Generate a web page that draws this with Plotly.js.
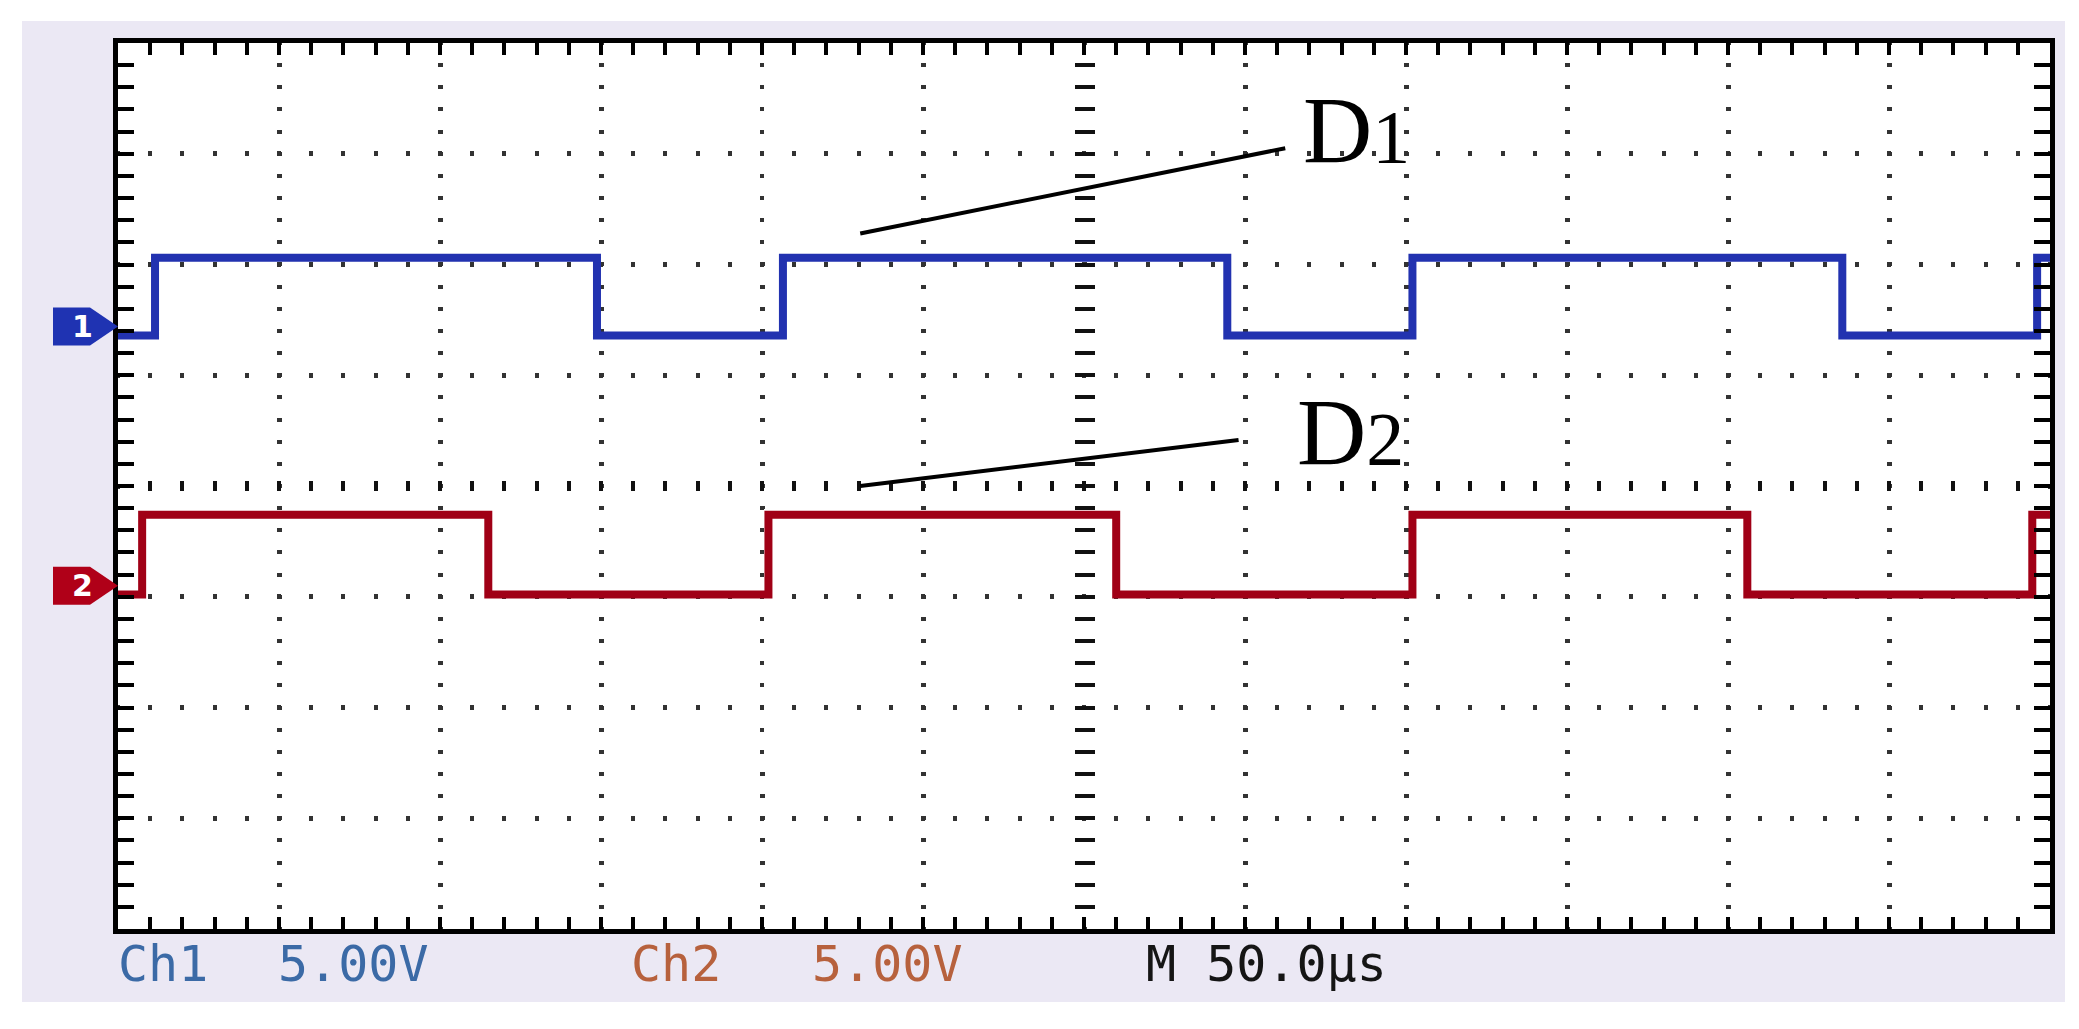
<!DOCTYPE html>
<html>
<head>
<meta charset="utf-8">
<script src="https://cdn.plot.ly/plotly-3.0.1.min.js"></script>
<style>
  html, body { margin: 0; padding: 0; background: #ffffff; }
  #scope { position: absolute; left: 22px; top: 21px; width: 2043px; height: 981px; }
</style>
</head>
<body>
<div id="scope"></div>
<script>
// screen is 12 x 8 divisions, everything below is in divisions
const ch1Time = [0, 0.23, 2.975, 4.13, 6.89, 8.04, 10.71, 11.92, 12];
const ch1Level = [1.36, 2.06, 1.36, 2.06, 1.36, 2.06, 1.36, 2.06, 2.06];
const ch2Time = [0, 0.15, 2.30, 4.04, 6.20, 8.04, 10.12, 11.89, 12];
const ch2Level = [-0.98, -0.26, -0.98, -0.26, -0.98, -0.26, -0.98, -0.26, -0.26];

// ground markers on the left edge
const markerLabel = ['1', '2'];
const markerLevel = [1.44, -0.90];
const markerColor = ['#1f33b2', '#b00018'];

// D1 / D2 callouts
const calloutText = ['D<span style="font-size:76px">1</span>', 'D<span style="font-size:76px">2</span>'];
const calloutX = [7.35, 7.31];
const calloutY = [3.21, 0.48];
const leaderX0 = [4.61, 4.61];
const leaderY0 = [2.28, 0.0];
const leaderX1 = [7.25, 6.96];
const leaderY1 = [3.05, 0.415];

// readout under the screen
const footerText = ['Ch1', '5.00V', 'Ch2', '5.00V', 'M 50.0\u03bcs'];
const footerColor = ['#3b6aa6', '#3b6aa6', '#b7613d', '#b7613d', '#151515'];
const footerLeft = [116, 276, 629, 810, 1144];

const xRange = [0, 12];
const yRange = [-4, 4];
const plotW = 1932, plotH = 886;

const frameAxis = {
    showline: true, linecolor: '#000', linewidth: 5, mirror: 'allticks',
    ticks: 'inside', tickcolor: '#000', tickwidth: 4, dtick: 1, tick0: 0,
    showticklabels: false, zeroline: false, fixedrange: true,
    showgrid: true, gridcolor: '#333', gridwidth: 5,
};

const traces = [
    {
        x: ch1Time, y: ch1Level, type: 'scatter', mode: 'lines',
        line: { color: '#2232b0', width: 8, shape: 'hv' }, hoverinfo: 'skip',
    },
    {
        x: ch2Time, y: ch2Level, type: 'scatter', mode: 'lines',
        line: { color: '#a00016', width: 8, shape: 'hv' }, hoverinfo: 'skip',
    },
    // empty trace so the centre graticule axes get drawn
    { x: [], y: [], xaxis: 'x2', yaxis: 'y2', type: 'scatter', mode: 'lines', hoverinfo: 'skip' },
];

const shapes = [];
const annotations = [];

markerLevel.forEach((lvl, i) => {
    shapes.push({
        type: 'path', xref: 'paper', yref: 'paper',
        xsizemode: 'pixel', ysizemode: 'pixel',
        xanchor: 0, yanchor: (lvl - yRange[0]) / (yRange[1] - yRange[0]),
        path: 'M-65,-19 L-28,-19 L0,0 L-28,19 L-65,19 Z',
        fillcolor: markerColor[i], line: { width: 0 },
    });
    annotations.push({
        xref: 'paper', x: 0, xshift: -48, yref: 'y', y: lvl,
        text: '<b>' + markerLabel[i] + '</b>', showarrow: false,
        font: { family: 'DejaVu Sans', size: 30, color: '#ffffff' },
    });
});

leaderX0.forEach((x0, i) => {
    shapes.push({
        type: 'line', xref: 'x', yref: 'y',
        x0: x0, y0: leaderY0[i], x1: leaderX1[i], y1: leaderY1[i],
        line: { color: '#000', width: 4 },
    });
    annotations.push({
        xref: 'x', yref: 'y', x: calloutX[i], y: calloutY[i],
        xanchor: 'left', yanchor: 'middle', showarrow: false,
        text: calloutText[i],
        font: { family: 'Liberation Serif, Times New Roman, serif', size: 96, color: '#000' },
    });
});

footerText.forEach((t, i) => {
    annotations.push({
        xref: 'paper', yref: 'paper',
        x: (footerLeft[i] - 118) / plotW, y: (929 - 964) / plotH,
        xanchor: 'left', yanchor: 'middle', showarrow: false, text: t,
        font: { family: 'DejaVu Sans Mono, monospace', size: 50, color: footerColor[i] },
    });
});

const layout = {
    width: 2043, height: 981,
    margin: { l: 96, r: 15, t: 22, b: 73 },
    paper_bgcolor: '#ebe8f4',
    plot_bgcolor: '#ffffff',
    showlegend: false,
    xaxis: {
        ...frameAxis, range: xRange, ticklen: 12,
        griddash: '2px,18.15px,2px,0px',
        minor: { dtick: 0.2, ticks: 'inside', ticklen: 12, tickwidth: 4, tickcolor: '#000', showgrid: false },
    },
    yaxis: {
        ...frameAxis, range: yRange, ticklen: 16,
        griddash: '2px,28.2px,2px,0px',
        minor: { dtick: 0.2, ticks: 'inside', ticklen: 16, tickwidth: 4, tickcolor: '#000', showgrid: false },
    },
    // centre graticule lines with their small ticks
    xaxis2: {
        overlaying: 'x', anchor: 'free', position: 0.5 - 5 / plotH, side: 'bottom',
        range: xRange, dtick: 0.2, tick0: 0, ticks: 'inside', ticklen: 10, tickwidth: 4,
        tickcolor: '#111', showline: false, showgrid: false, zeroline: false, showticklabels: false,
        fixedrange: true,
    },
    yaxis2: {
        overlaying: 'y', anchor: 'free', position: 0.5 - 10 / plotW, side: 'left',
        range: yRange, dtick: 0.2, tick0: 0, ticks: 'inside', ticklen: 20, tickwidth: 4,
        tickcolor: '#111', showline: false, showgrid: false, zeroline: false, showticklabels: false,
        fixedrange: true,
    },
    shapes: shapes,
    annotations: annotations,
};

Plotly.newPlot('scope', traces, layout, { displayModeBar: false, staticPlot: true });
</script>
</body>
</html>
